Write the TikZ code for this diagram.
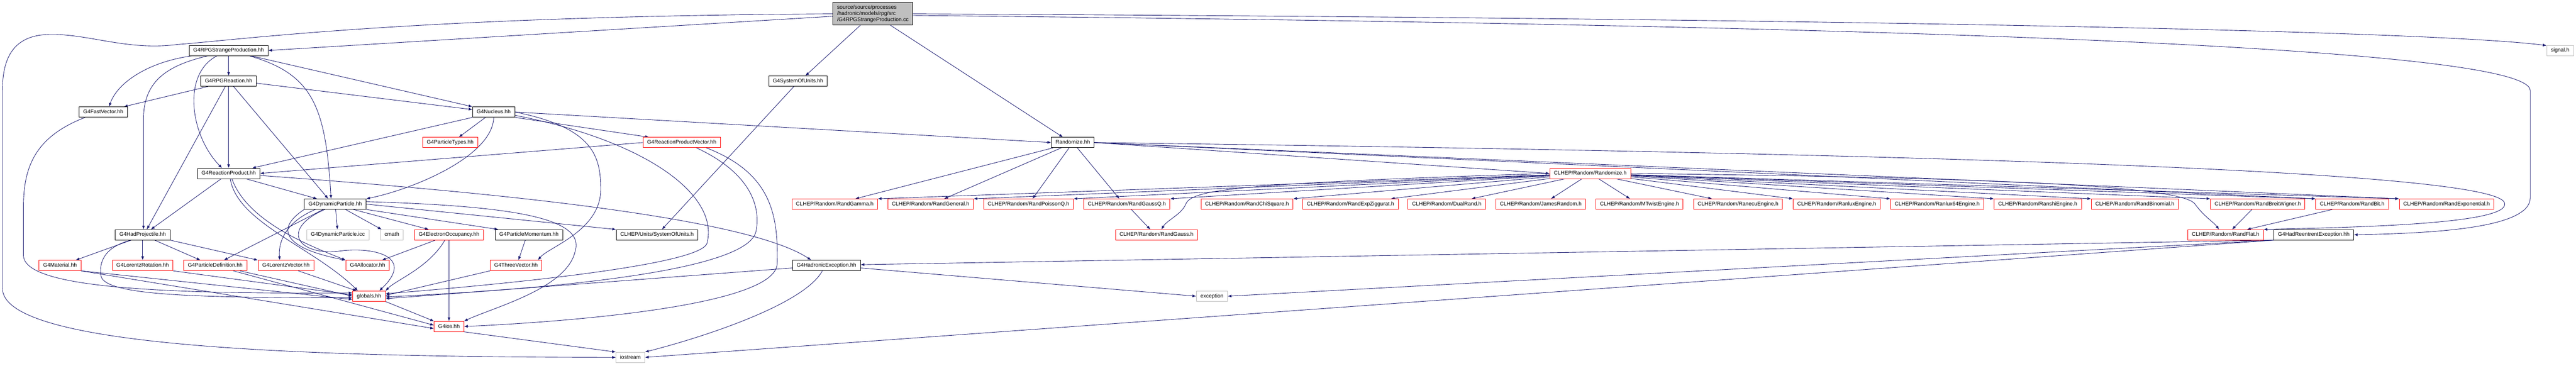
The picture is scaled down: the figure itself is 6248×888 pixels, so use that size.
\documentclass[tikz,border=0pt]{standalone}
\usepackage{fontspec}
\setmainfont{Liberation Sans}
\usepackage{xcolor}
\usepackage{tikz}
\usetikzlibrary{arrows.meta, backgrounds}

\definecolor{edgeblue}{RGB}{25,25,112}
\definecolor{extgray}{RGB}{191,191,191}

\begin{document}
\begin{tikzpicture}[
    x=1pt, y=-1pt,
    every node/.style={rectangle, draw, fill=white, line width=1pt, inner xsep=10pt, inner ysep=0pt,
        minimum height=25pt, text height=9.5pt, text depth=2.5pt, font=\fontsize{13}{15}\selectfont}, % file boxes
    trunc/.style={draw=red}, % files with hidden includes
    sys/.style={draw=extgray}, % system headers
    inc/.style={draw=edgeblue, line width=1.1pt, -{Latex[length=9pt,width=7pt]}} % include edges
    ]
\useasboundingbox (0,0) rectangle (6248,888);

% source file
\node[fill=extgray, align=left, text height=, text depth=, inner ysep=3pt, minimum height=55pt,
      font=\fontsize{13}{14.5}\selectfont] (root) at (2117,33.5)
      {source/source/processes\\/hadronic/models/rpg/src\\/G4RPGStrangeProduction.cc};

% included files, rank by rank
\node (strange) at (554.5,122.5) {G4RPGStrangeProduction.hh};
\node[sys] (signal) at (6209.5,122.5) {signal.h};

\node (reaction) at (554.5,197) {G4RPGReaction.hh};
\node (sysunits) at (1935.5,197) {G4SystemOfUnits.hh};

\node (fastvec) at (250.5,272) {G4FastVector.hh};
\node (nucleus) at (1197.5,272) {G4Nucleus.hh};

\node[trunc] (ptypes) at (1092,346) {G4ParticleTypes.hh};
\node[trunc] (rpvector) at (1653.5,346) {G4ReactionProductVector.hh};
\node (randomize) at (2602,346) {Randomize.hh};

\node (rproduct) at (554.5,421) {G4ReactionProduct.hh};
\node[trunc] (clhepran) at (3857,421) {CLHEP/Random/Randomize.h};

\node (dynpart) at (813,495.5) {G4DynamicParticle.hh};
\node[trunc] (gamma) at (2024.5,495.5) {CLHEP/Random/RandGamma.h};
\node[trunc] (general) at (2257,495.5) {CLHEP/Random/RandGeneral.h};
\node[trunc] (poissonq) at (2494.5,495.5) {CLHEP/Random/RandPoissonQ.h};
\node[trunc] (gaussq) at (2733,495.5) {CLHEP/Random/RandGaussQ.h};
\node[trunc] (chisq) at (3024.5,495.5) {CLHEP/Random/RandChiSquare.h};
\node[trunc] (expzig) at (3275.5,495.5) {CLHEP/Random/RandExpZiggurat.h};
\node[trunc] (dualrand) at (3509,495.5) {CLHEP/Random/DualRand.h};
\node[trunc] (james) at (3737,495.5) {CLHEP/Random/JamesRandom.h};
\node[trunc] (mtwist) at (3976.5,495.5) {CLHEP/Random/MTwistEngine.h};
\node[trunc] (ranecu) at (4215.5,495.5) {CLHEP/Random/RanecuEngine.h};
\node[trunc] (ranlux) at (4455,495.5) {CLHEP/Random/RanluxEngine.h};
\node[trunc] (ranluxsf) at (4698.5,495.5) {CLHEP/Random/Ranlux64Engine.h};
\node[trunc] (ranshi) at (4942.5,495.5) {CLHEP/Random/RanshiEngine.h};
\node[trunc] (binomial) at (5178,495.5) {CLHEP/Random/RandBinomial.h};
\node[trunc] (breit) at (5476,495.5) {CLHEP/Random/RandBreitWigner.h};
\node[trunc] (randbit) at (5705,495.5) {CLHEP/Random/RandBit.h};
\node[trunc] (expon) at (5934,495.5) {CLHEP/Random/RandExponential.h};

\node (hadproj) at (346,570) {G4HadProjectile.hh};
\node[sys] (dynicc) at (819.5,570) {G4DynamicParticle.icc};
\node[sys] (cmath) at (950.5,570) {cmath};
\node[trunc] (eocc) at (1089,570) {G4ElectronOccupancy.hh};
\node (pmom) at (1283,570) {G4ParticleMomentum.hh};
\node (clhepunits) at (1593.5,570) {CLHEP/Units/SystemOfUnits.h};
\node[trunc] (gauss) at (2805,570) {CLHEP/Random/RandGauss.h};
\node[trunc] (flat) at (5398,570) {CLHEP/Random/RandFlat.h};
\node (reentrant) at (5612,570) {G4HadReentrentException.hh};

\node[trunc] (material) at (145.5,644.5) {G4Material.hh};
\node[trunc] (lrot) at (346,644.5) {G4LorentzRotation.hh};
\node[trunc] (pdef) at (522,644.5) {G4ParticleDefinition.hh};
\node[trunc] (lvec) at (693.5,644.5) {G4LorentzVector.hh};
\node[trunc] (alloc) at (891.5,644.5) {G4Allocator.hh};
\node[trunc] (threevec) at (1251.5,644.5) {G4ThreeVector.hh};
\node (hadexc) at (2004.5,644.5) {G4HadronicException.hh};

\node[trunc] (globals) at (895,719) {globals.hh};
\node[sys] (exception) at (2939.5,719) {exception};

\node[trunc] (ios) at (1089,792.5) {G4ios.hh};

\node[sys] (iostream) at (1529,867.5) {iostream};

\begin{scope}[on background layer]
% from the source file
\draw[inc] ([yshift=-6pt]root.west) -- (strange.east);
\draw[inc] (root.west) .. controls (1000,40) and (600,95) .. (430,108) .. controls (300,125) and (200,75) .. (100,85)
    .. controls (20,95) and (6,160) .. (6,220) -- (6,700) .. controls (6,840) and (700,867) .. (iostream.west);
\draw[inc] (root) -- ([xshift=18pt]sysunits.north);
\draw[inc] (root) -- ([xshift=-24pt]randomize.north);
\draw[inc] (root.east) .. controls (4500,45) and (5900,75) .. (signal.160);
\draw[inc] ([yshift=-4pt]root.east) .. controls (4500,60) and (6137,110) .. (6137,220) -- (6137,480)
    .. controls (6137,555) and (5900,566) .. (reentrant.east);

% G4RPGStrangeProduction.hh
\draw[inc] ([xshift=-88pt]strange.south) .. controls (360,150) and (285,200) .. ([xshift=14pt]fastvec.north);
\draw[inc] ([xshift=-50pt]strange.south) .. controls (400,160) and (348,200) .. (348,290) -- ([xshift=2pt]hadproj.north);
\draw[inc] ([xshift=-28pt]strange.south) .. controls (440,180) and (462,330) .. ([xshift=-16pt]rproduct.north);
\draw[inc] (strange) -- (reaction);
\draw[inc] ([xshift=50pt]strange.south) .. controls (760,180) and (790,260) .. ([xshift=-10pt]dynpart.north);
\draw[inc] ([xshift=54pt]strange.south) -- (nucleus.north west);

% G4RPGReaction.hh
\draw[inc] ([xshift=-50pt]reaction.south) -- ([xshift=50pt]fastvec.north);
\draw[inc] ([yshift=-5pt]reaction.east) -- ([yshift=6pt]nucleus.west);
\draw[inc] (reaction) -- (rproduct);
\draw[inc] ([xshift=-8pt]reaction.south) -- ([xshift=10pt]hadproj.north);
\draw[inc] ([xshift=12pt]reaction.south) -- ([xshift=-17pt]dynpart.north);

% G4FastVector.hh
\draw[inc] ([xshift=-44pt]fastvec.south) .. controls (90,330) and (57,400) .. (57,500) -- (57,620)
    .. controls (57,700) and (400,714) .. ([yshift=8pt]globals.west);

% G4Nucleus.hh
\draw[inc] ([xshift=-20pt]nucleus.south) -- ([xshift=21pt]ptypes.north);
\draw[inc] (nucleus.south west) -- ([xshift=57pt]rproduct.north);
\draw[inc] (nucleus.south) .. controls (1195,380) and (1000,460) .. (dynpart.north east);
\draw[inc] (nucleus.south east) -- ([xshift=15pt]rpvector.north west);
\draw[inc] (nucleus.east) .. controls (1440,310) and (1457,380) .. (1457,460) .. controls (1457,560) and (1330,600) .. ([xshift=-10pt]threevec.north east);
\draw[inc] ([yshift=-8pt]nucleus.east) .. controls (1560,340) and (1745,470) .. (1715,590) .. controls (1700,650) and (1100,700) .. ([yshift=6pt]globals.east);
\draw[inc] (nucleus.east) -- (randomize.west);

% G4ReactionProductVector.hh
\draw[inc] (rpvector.west) -- (rproduct.east);
\draw[inc] ([xshift=36pt]rpvector.south) .. controls (1820,420) and (1845,500) .. (1834,560) .. controls (1815,680) and (1100,712) .. ([yshift=-2pt]globals.east);
\draw[inc] ([xshift=60pt]rpvector.south) .. controls (1870,420) and (1888,520) .. (1885,640) .. controls (1882,750) and (1300,785) .. (ios.east);

% Randomize.hh
\draw[inc] (randomize.east) -- (clhepran.west);
\draw[inc] ([xshift=-48pt]randomize.south) -- ([xshift=50pt]gamma.north);
\draw[inc] ([xshift=-28pt]randomize.south) -- ([xshift=33pt]general.north);
\draw[inc] ([xshift=-9pt]randomize.south) -- ([xshift=10pt]poissonq.north);
\draw[inc] ([xshift=11pt]randomize.south) -- ([xshift=-18pt]gaussq.north);
\draw[inc] (randomize.east) -- (randbit.north west);
\draw[inc] (randomize.east) -- (expon.north west);
\draw[inc] (randomize.east) .. controls (4500,370) and (6080,410) .. (6075,495) .. controls (6080,545) and (5700,552) .. (flat.north east);

% CLHEP/Random/Randomize.h
\draw[inc] (clhepran) -- (gamma.north east);
\draw[inc] (clhepran) -- (general.north east);
\draw[inc] (clhepran) -- (poissonq.north east);
\draw[inc] (clhepran) -- (gaussq.north east);
\draw[inc] (clhepran.west) .. controls (3000,445) and (2890,460) .. (2876,495.5) .. controls (2866,520) and (2830,535) .. ([xshift=12pt]gauss.north);
\draw[inc] (clhepran) -- (chisq.north east);
\draw[inc] (clhepran) -- ([xshift=98pt]expzig.north);
\draw[inc] (clhepran) -- ([xshift=60pt]dualrand.north);
\draw[inc] (clhepran) -- ([xshift=25pt]james.north);
\draw[inc] (clhepran) -- ([xshift=-23pt]mtwist.north);
\draw[inc] (clhepran) -- ([xshift=-63pt]ranecu.north);
\draw[inc] (clhepran) -- (ranlux.north west);
\draw[inc] (clhepran) -- (ranluxsf.north west);
\draw[inc] (clhepran) -- (ranshi.north west);
\draw[inc] (clhepran) -- (binomial.north west);
\draw[inc] (clhepran) -- (breit.north west);
\draw[inc] (clhepran) -- (randbit.north west);
\draw[inc] (clhepran) -- (expon.north west);
\draw[inc] (clhepran.east) .. controls (4700,430) and (5290,445) .. (5324,495.5) .. controls (5345,525) and (5370,540) .. ([xshift=-16pt]flat.north);

% CLHEP random distributions
\draw[inc] ([xshift=11pt]gaussq.south) -- ([xshift=-15pt]gauss.north);
\draw[inc] ([xshift=-14pt]breit.south) -- ([xshift=16pt]flat.north);
\draw[inc] ([xshift=-48pt]randbit.south) -- ([xshift=52pt]flat.north);

% G4SystemOfUnits.hh
\draw[inc] ([xshift=-10pt]sysunits.south) -- ([xshift=12pt]clhepunits.north);

% G4ReactionProduct.hh
\draw[inc] ([xshift=-18pt]rproduct.south) -- ([xshift=20pt]hadproj.north);
\draw[inc] ([xshift=4pt]rproduct.south) .. controls (575,540) and (760,600) .. ([xshift=-27pt]globals.north);
\draw[inc] ([xshift=8pt]rproduct.south) .. controls (600,540) and (760,600) .. (alloc.north west);
\draw[inc] ([xshift=42pt]rproduct.south) -- ([xshift=-44pt]dynpart.north);
\draw[inc] ([yshift=-5pt]rproduct.east) .. controls (1100,460) and (1800,520) .. ([xshift=-37pt]hadexc.north);

% G4DynamicParticle.hh
\draw[inc] (dynpart) -- (dynicc);
\draw[inc] ([xshift=25pt]dynpart.south) -- ([xshift=-25pt]cmath.north);
\draw[inc] ([xshift=44pt]dynpart.south) -- ([xshift=-49pt]eocc.north);
\draw[inc] (dynpart.south east) -- ([xshift=8pt]pmom.north west);
\draw[inc] (dynpart.east) -- (clhepunits.north west);
\draw[inc] ([yshift=6pt]dynpart.east) .. controls (1250,500) and (1420,530) .. (1395,610) .. controls (1375,700) and (1200,745) .. (ios.north east);
\draw[inc] ([xshift=-48pt]dynpart.south) .. controls (690,540) and (675,590) .. ([xshift=-15pt]lvec.north);
\draw[inc] ([xshift=-29pt]dynpart.south) -- ([xshift=21pt]pdef.north);
\draw[inc] (dynpart.south west) .. controls (660,560) and (700,605) .. (alloc.north west);
\draw[inc] ([xshift=-25pt]dynpart.south) .. controls (680,555) and (720,620) .. (820,610) .. controls (900,598) and (1010,620) .. ([xshift=25pt]globals.north);

% G4HadProjectile.hh
\draw[inc] ([xshift=-28pt]hadproj.south) -- ([xshift=38pt]material.north);
\draw[inc] (hadproj) -- (lrot);
\draw[inc] ([xshift=29pt]hadproj.south) -- ([xshift=-36pt]pdef.north);
\draw[inc] (hadproj.south east) -- (lvec.north west);
\draw[inc] ([xshift=-28pt]hadproj.south) .. controls (250,600) and (240,640) .. (245,670) .. controls (255,720) and (500,722) .. ([yshift=-4pt]globals.west);

% row of G4 headers
\draw[inc] (material.south east) -- ([yshift=-8pt]globals.west);
\draw[inc] (material.south east) -- ([yshift=-5pt]ios.west);
\draw[inc] (lrot.south east) -- ([yshift=3pt]globals.west);
\draw[inc] ([xshift=60pt]pdef.south) -- (globals.west);
\draw[inc] ([xshift=44pt]pdef.south) -- ([yshift=3pt]ios.west);
\draw[inc] ([xshift=30pt]lvec.south) -- ([xshift=-30pt]globals.north);
\draw[inc] ([xshift=-33pt]eocc.south) -- ([xshift=35pt]alloc.north);
\draw[inc] ([xshift=-10pt]eocc.south) .. controls (1040,650) and (960,680) .. (globals.north east);
\draw[inc] (eocc) -- (ios);
\draw[inc] ([xshift=-9pt]pmom.south) -- ([xshift=6pt]threevec.north);
\draw[inc] (threevec.south west) -- ([yshift=2pt]globals.east);
\draw[inc] (globals.south east) -- (ios.north west);
\draw[inc] (ios.south east) -- (iostream.north west);

% exceptions
\draw[inc] ([yshift=-6pt]hadexc.west) -- ([yshift=-6pt]globals.east);
\draw[inc] ([xshift=-10pt]hadexc.south) .. controls (1950,740) and (1700,820) .. (iostream.north east);
\draw[inc] ([yshift=-6pt]hadexc.east) -- (exception.west);
\draw[inc] (reentrant.south west) -- ([yshift=2pt]hadexc.east);
\draw[inc] (reentrant.south west) -- (exception.east);
\draw[inc] (reentrant.south west) -- (iostream.east);
\end{scope}
\end{tikzpicture}
\end{document}
